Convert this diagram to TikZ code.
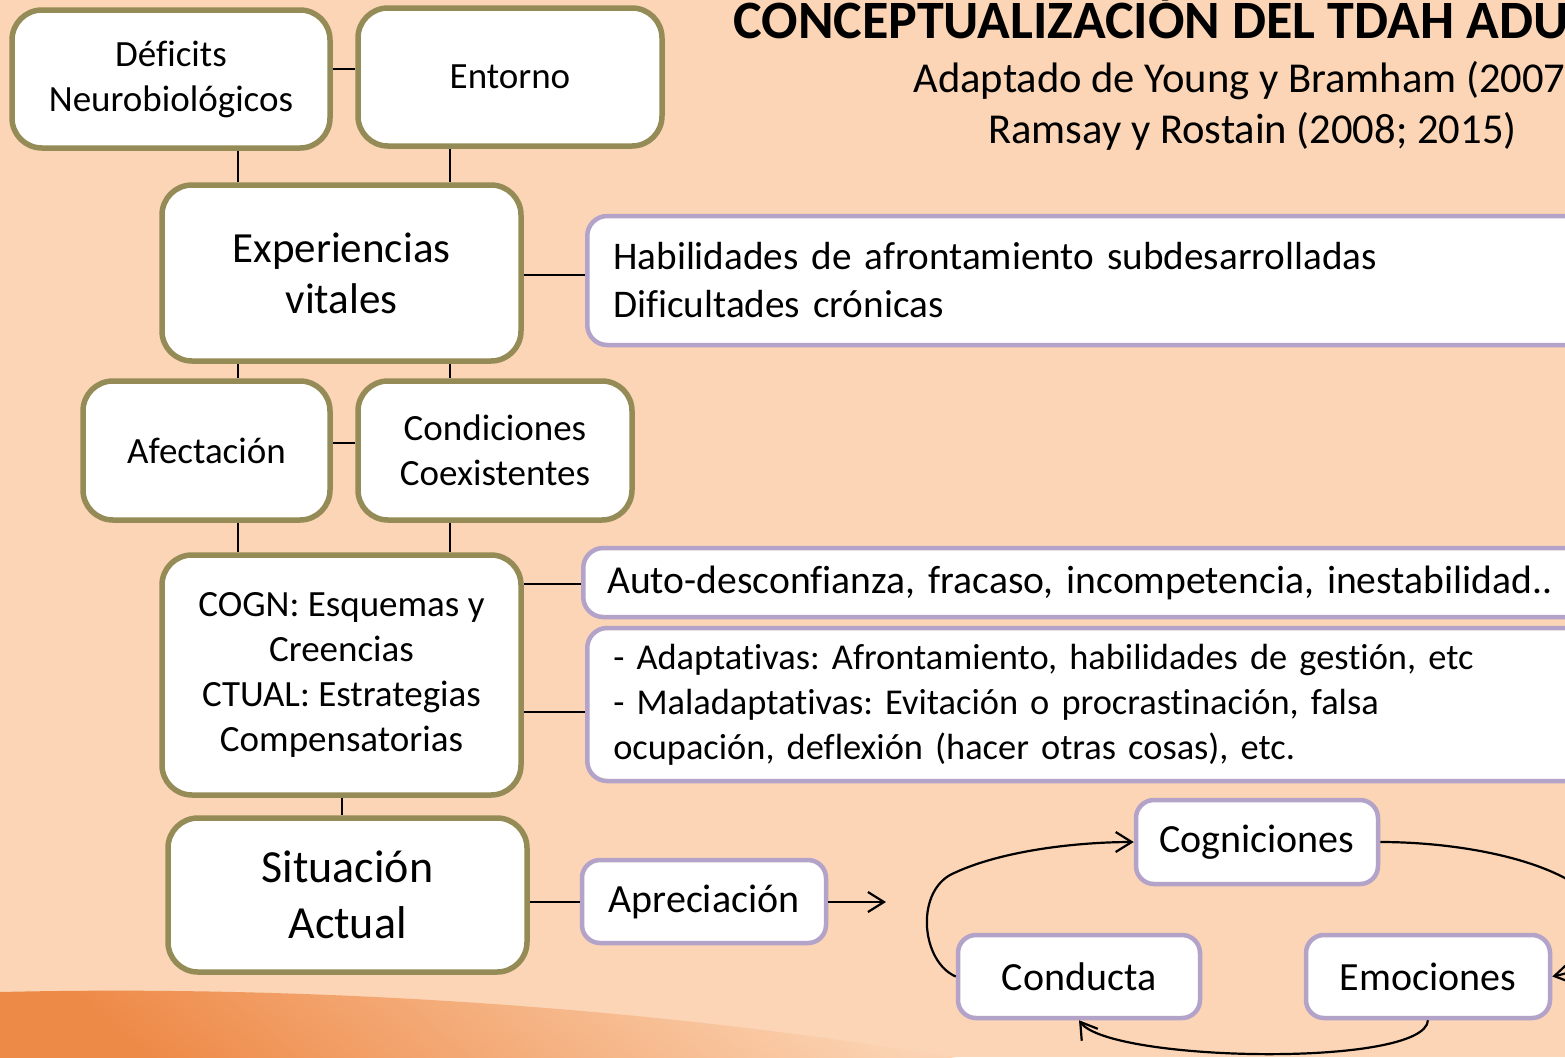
\documentclass[tikz,border=0pt]{standalone}
\usepackage{fontspec}
\setmainfont{Carlito}[Ligatures=NoCommon]
\usetikzlibrary{arrows.meta,calc}
\definecolor{bg}{HTML}{FBD5B5}
\definecolor{olivebd}{HTML}{958B56}
\definecolor{lavbd}{HTML}{B4A3C9}
\definecolor{orD}{HTML}{EE8A48}
\definecolor{orL}{HTML}{FBD3B2}
\frenchspacing
\begin{document}
\begin{tikzpicture}[x=0.5pt,y=-0.5pt,
  obox/.style={draw=olivebd,line width=2.75pt,fill=white,rounded corners=15pt,align=center,inner sep=0pt},
  pbox/.style={draw=lavbd,line width=2.25pt,fill=white,rounded corners=10pt,inner sep=0pt},
  wbox/.style={pbox,anchor=west,align=left,text width=480pt,inner xsep=13pt},
  fs/.style={font=\fontsize{18.5}{22.5}\selectfont},
  fm/.style={font=\fontsize{20}{24}\selectfont},
  conn/.style={line width=1pt,black},
  arr/.style={line width=1.1pt,black,-{Straight Barb[length=8pt,width=10pt]}}]
\useasboundingbox (0,0) rectangle (1565,1057);
\begin{scope}
\clip (0,0) rectangle (1565,1057);
\fill[bg] (0,0) rectangle (1565,1057);
\shade[top color=orL,bottom color=orD,shading angle=-40]
  (0,992) .. controls (300,985) and (650,1005) .. (980,1062) -- (0,1062) -- cycle;

% title
\node[anchor=base west,inner sep=0pt,font=\fontsize{27}{30}\selectfont\bfseries] (title) at (733,38) {CONCEPTUALIZACIÓN DEL TDAH ADULTO};
\node[anchor=base west,inner sep=0pt,font=\fontsize{21.3}{24}\selectfont] (sub1) at (913,92) {Adaptado de Young y Bramham (2007);};
\node[anchor=base west,inner sep=0pt,font=\fontsize{21.3}{24}\selectfont] (sub2) at (988,143) {Ramsay y Rostain (2008; 2015)};

% left column boxes
\node[obox,fs,minimum width=159pt,minimum height=69pt] (def) at (171,79) {Déficits\\Neurobiológicos};
\node[obox,fs,minimum width=152pt,minimum height=69pt] (ent) at (510,77) {Entorno};
\node[obox,font=\fontsize{21.5}{25.5}\selectfont,minimum width=179.5pt,minimum height=88pt] (exp) at (341.5,273) {Experiencias\\vitales};
\node[obox,fs,minimum width=123.5pt,minimum height=69.5pt] (afe) at (206.5,450.5) {Afectación};
\node[obox,fs,minimum width=137pt,minimum height=69.5pt] (cond) at (495,450.5) {Condiciones\\Coexistentes};
\node[obox,fs,minimum width=179.5pt,minimum height=120pt] (cogn) at (341.5,675) {COGN: Esquemas y\\Creencias\\CTUAL: Estrategias\\Compensatorias};
\node[obox,font=\fontsize{23}{28}\selectfont,minimum width=179.5pt,minimum height=77pt] (sit) at (347.5,895) {Situación\\Actual};

% right boxes
\node[wbox,font=\fontsize{19.6}{24}\selectfont,minimum height=64.5pt] (hab) at (585,280.5) {Habilidades de afrontamiento subdesarrolladas\\Dificultades crónicas};
\node[wbox,font=\fontsize{19.8}{24}\selectfont,minimum height=34.5pt,inner xsep=12pt] (auto) at (581,582.5) {Auto-desconfianza, fracaso, incompetencia, inestabilidad..};
\node[wbox,font=\fontsize{18.2}{22.5}\selectfont,minimum height=76.5pt] (adap) at (585,704.5) {- Adaptativas: Afrontamiento, habilidades de gestión, etc\\- Maladaptativas: Evitación o procrastinación, falsa\\ocupación, deflexión (hacer otras cosas), etc.};
\node[pbox,fm,rounded corners=9pt,minimum width=122pt,minimum height=41.5pt] (apr) at (704,901.5) {Apreciación};
\node[pbox,fm,rounded corners=9pt,minimum width=121pt,minimum height=42pt] (cogni) at (1257,842) {Cogniciones};
\node[pbox,fm,rounded corners=9pt,minimum width=121pt,minimum height=41.5pt] (condu) at (1079,976.5) {Conducta};
\node[pbox,fm,rounded corners=9pt,minimum width=122pt,minimum height=41.5pt] (emo) at (1428,976.5) {Emociones};

% guide coordinates
\coordinate (xa) at (238,0);
\coordinate (xb) at (450,0);
\coordinate (xc) at (342,0);
\coordinate (y1) at (0,69);
\coordinate (y2) at (0,275);
\coordinate (y3) at (0,443);
\coordinate (y4) at (0,584);
\coordinate (y5) at (0,712);
\coordinate (y6) at (0,902);
\coordinate (aend) at (886,902);

% connectors
\draw[conn] (def.east |- y1) -- (ent.west |- y1);
\draw[conn] (def.south -| xa) -- (exp.north -| xa);
\draw[conn] (ent.south -| xb) -- (exp.north -| xb);
\draw[conn] (exp.east |- y2) -- (hab.west |- y2);
\draw[conn] (exp.south -| xa) -- (afe.north -| xa);
\draw[conn] (exp.south -| xb) -- (cond.north -| xb);
\draw[conn] (afe.east |- y3) -- (cond.west |- y3);
\draw[conn] (afe.south -| xa) -- (cogn.north -| xa);
\draw[conn] (cond.south -| xb) -- (cogn.north -| xb);
\draw[conn] (cogn.east |- y4) -- (auto.west |- y4);
\draw[conn] (cogn.east |- y5) -- (adap.west |- y5);
\draw[conn] (cogn.south -| xc) -- (sit.north -| xc);
\draw[conn] (sit.east |- y6) -- (apr.west |- y6);
\draw[arr] (apr.east |- y6) -- (aend);

% cycle
\draw[arr] (condu.west) .. controls (922,962) and (915,895) .. (950,875)
  .. controls (1000,850) and (1080,842) .. (cogni.west);
\draw[arr] (cogni.east) .. controls (1480,842) and (1600,870) .. (1605,925)
  .. controls (1608,960) and (1575,972) .. (emo.east);
\draw[arr] (emo.south) .. controls (1425,1068) and (1110,1062) .. (condu.south);
\end{scope}
\end{tikzpicture}
\end{document}
